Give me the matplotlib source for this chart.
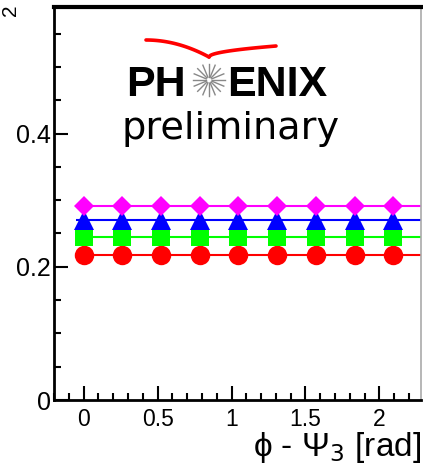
import matplotlib
matplotlib.use("Agg")
import matplotlib.pyplot as plt
import numpy as np
from matplotlib.ticker import MultipleLocator

# phi - Psi_3 bins: k * pi/12, k = 0..8
phi = [0.0, 0.262, 0.524, 0.785, 1.047, 1.309, 1.571, 1.833, 2.094]
val_red = [0.217, 0.217, 0.217, 0.217, 0.217, 0.217, 0.217, 0.217, 0.217]
val_green = [0.245, 0.245, 0.245, 0.245, 0.245, 0.245, 0.245, 0.245, 0.245]
val_blue = [0.270, 0.270, 0.270, 0.270, 0.270, 0.270, 0.270, 0.270, 0.270]
val_magenta = [0.292, 0.292, 0.292, 0.292, 0.292, 0.292, 0.292, 0.292, 0.292]

plt.rcParams['font.family'] = ['Liberation Sans', 'DejaVu Sans']

fig = plt.figure(figsize=(4.23, 4.73), dpi=100)
ax = fig.add_axes([0.1277, 0.1543, 0.8673, 0.8309])

XMIN, XMAX = -0.2, 2.28
series = [
    (val_red, 'o', (1, 0, 0), 14),
    (val_green, 's', (0, 1, 0), 13),
    (val_blue, '^', (0, 0, 1), 14),
    (val_magenta, 'D', (1, 0, 1), 10),
]
for vals, mk, col, ms in series:
    # constant fit line across the range
    ax.hlines(np.mean(vals), -0.05, XMAX, color=col, lw=1.5, zorder=2)
    ax.plot(phi, vals, linestyle='none', marker=mk, color=col, ms=ms,
            markeredgewidth=0, zorder=3)

ax.set_xlim(XMIN, XMAX)
ax.set_ylim(0, 0.59)
ax.xaxis.set_major_locator(MultipleLocator(0.5))
ax.xaxis.set_minor_locator(MultipleLocator(0.1))
ax.yaxis.set_major_locator(MultipleLocator(0.2))
ax.yaxis.set_minor_locator(MultipleLocator(0.05))
ax.xaxis.set_major_formatter(plt.FuncFormatter(lambda v, p: f"{v:g}"))
ax.yaxis.set_major_formatter(plt.FuncFormatter(lambda v, p: f"{v:g}"))
ax.tick_params(which='both', direction='in', top=False, right=False, width=1.5)
ax.tick_params(which='major', length=10)
ax.tick_params(which='minor', length=5)
ax.tick_params(axis='x', labelsize=16.5, pad=6)
ax.tick_params(axis='y', labelsize=18, pad=2)
for s in ['left', 'bottom']:
    ax.spines[s].set_linewidth(2)
ax.spines['top'].set_linewidth(3)
ax.spines['right'].set_color('#aaaaaa')
ax.spines['right'].set_linewidth(1.2)

fig.text(0.995, 0.035, "ϕ - Ψ$_3$ [rad]", ha='right', va='baseline',
         fontsize=24)
fig.text(0.002, 0.99, "2", rotation=90, ha='left', va='top', fontsize=15)

# PHENIX preliminary logo, in figure pixel coordinates
lg = fig.add_axes([0, 0, 1, 1], zorder=5)
lg.set_xlim(0, 423)
lg.set_ylim(473, 0)
lg.axis('off')
lg.patch.set_alpha(0)
lg.text(126, 96, "PH", fontsize=31, fontweight='bold', ha='left', va='baseline')
lg.text(227, 96, "ENIX", fontsize=31, fontweight='bold', ha='left', va='baseline')
cx, cy = 209, 80
for a in np.linspace(0, 2 * np.pi, 16, endpoint=False):
    lg.plot([cx + 3 * np.cos(a), cx + 16 * np.cos(a)],
            [cy + 3 * np.sin(a), cy + 16 * np.sin(a)], color='#888888', lw=1)
t = np.linspace(0, 1, 50)
lg.plot(146 + 63 * t, 40 + 17 * t ** 2, color='red', lw=2.6, solid_capstyle='round')
lg.plot(209 + 67 * t, 57 - 11 * t ** 0.5, color='red', lw=2.6, solid_capstyle='round')
lg.text(231, 139, "preliminary", fontsize=27.5, ha='center', va='baseline',
        family='DejaVu Sans')

fig.savefig("out.png", dpi=100)
